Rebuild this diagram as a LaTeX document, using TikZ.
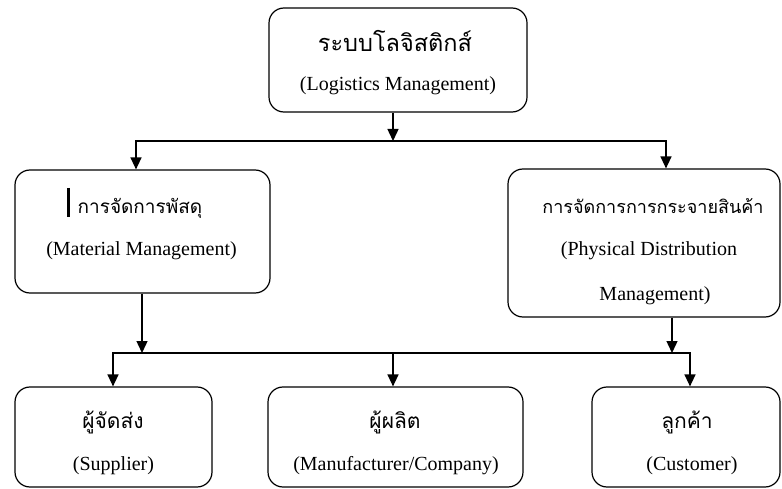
\documentclass[tikz,border=0pt]{standalone}
\usepackage{fontspec}
\setmainfont{Liberation Serif}
\newfontfamily\thaifont[Script=Thai]{Loma}
\usetikzlibrary{arrows.meta}
\tikzset{
  box/.style={draw, line width=1.2pt, rounded corners=15pt, inner sep=0pt},
  thai/.style={anchor=base, inner sep=0pt, font=\thaifont\fontsize{21}{25}\selectfont},
  thaism/.style={thai, font=\thaifont\fontsize{19}{23}\selectfont},
  eng/.style={anchor=base, inner sep=0pt, font=\fontsize{20}{24}\selectfont},
  link/.style={line width=1.4pt, -{Triangle[width=11pt,length=12pt]}},
  links/.style={line width=1.4pt, {Triangle[width=11pt,length=12pt]}-{Triangle[width=11pt,length=12pt]}}
}
\begin{document}
\begin{tikzpicture}[x=1pt,y=-1pt]
    \useasboundingbox (0,0) rectangle (782,489);
    % boxes
    \node[box, minimum width=258pt, minimum height=104pt] (logi) at (398,60) {};
    \node[box, minimum width=255pt, minimum height=123pt] (matl) at (142.5,231.5) {};
    \node[box, minimum width=272pt, minimum height=148pt] (dist) at (644,243) {};
    \node[box, minimum width=197pt, minimum height=100pt] (supp) at (113.5,437) {};
    \node[box, minimum width=255pt, minimum height=100pt] (manu) at (395.5,437) {};
    \node[box, minimum width=188pt, minimum height=100pt] (cust) at (686,437) {};
    % texts
    \node[thai, font=\thaifont\fontsize{23.5}{28}\selectfont] (logith) at (395,52) {ระบบโลจิสติกส์};
    \node[eng] (logien) at (398,91) {(Logistics Management)};
    \node[thaism] (matlth) at (140,214) {การจัดการพัสดุ};
    \node[eng] (matlen) at (141.5,255) {(Material Management)};
    \node[thaism, font=\thaifont\fontsize{18}{22}\selectfont] (distth) at (653,214) {การจัดการการกระจายสินค้า};
    \node[eng] (disten) at (649,255) {(Physical Distribution};
    \node[eng] (disten2) at (655,300) {Management)};
    \node[thai] (suppth) at (113,428) {ผู้จัดส่ง};
    \node[eng] (suppen) at (113.5,470) {(Supplier)};
    \node[thai] (manuth) at (395,428) {ผู้ผลิต};
    \node[eng] (manuen) at (396,470) {(Manufacturer/Company)};
    \node[thai] (custth) at (687,428) {ลูกค้า};
    \node[eng] (custen) at (692,470) {(Customer)};
    \draw[line width=3pt] (68,188) coordinate (bar1) -- (68,217) coordinate (bar2);
    % connectors
    \coordinate (top) at (393,141);
    \coordinate (hl) at (136,141);
    \coordinate (hr) at (666,141);
    \coordinate (bl) at (113,353);
    \coordinate (bm) at (393,353);
    \coordinate (br) at (690,353);
    \draw[link] (logi.south -| top) -- (top);
    \draw[links] (matl.north -| hl) |- (hr) -- (dist.north -| hr);
    \draw[link] (matl.south -| 142,0) -- (142,353);
    \draw[link] (dist.south -| 672,0) -- (672,353);
    \draw[links] (supp.north -| bl) |- (br) -- (cust.north -| br);
    \draw[link] (bm) -- (manu.north -| bm);
\end{tikzpicture}
\end{document}
